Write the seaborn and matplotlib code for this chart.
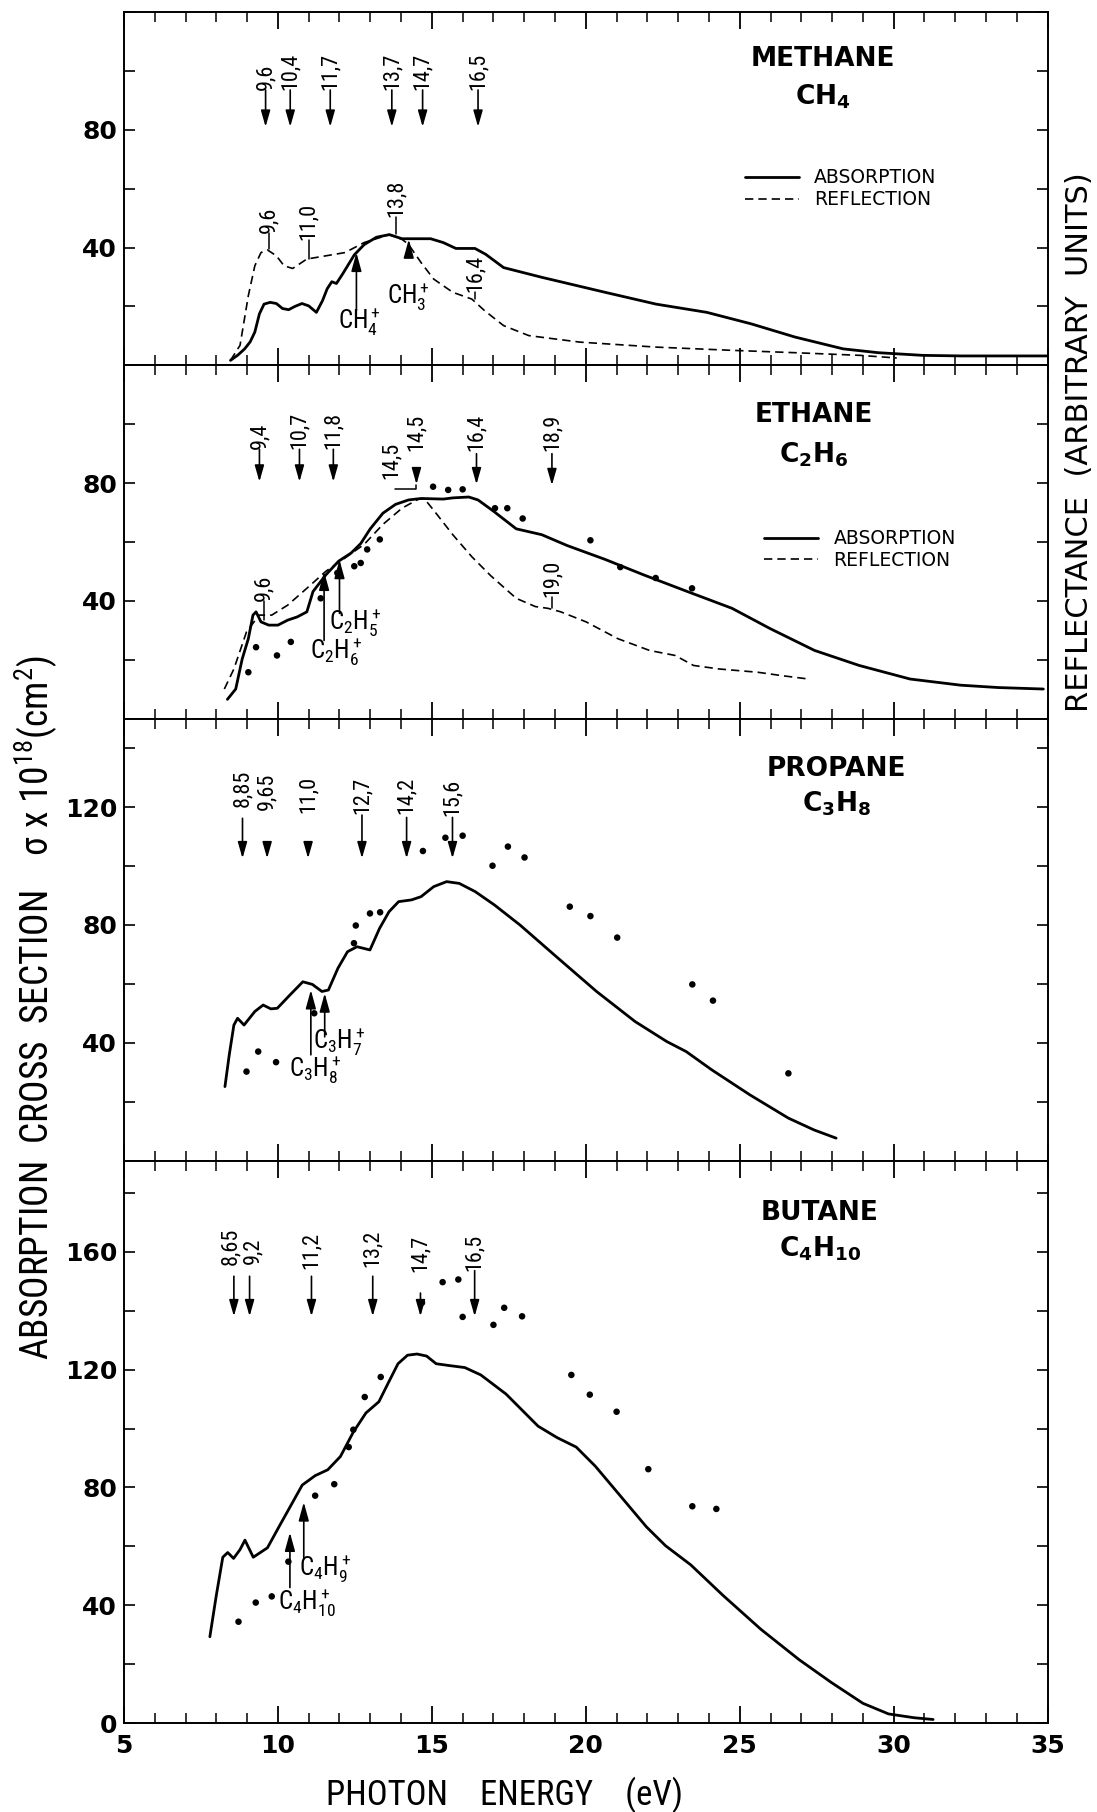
import numpy as np
import pandas as pd
import matplotlib.pyplot as plt
import seaborn as sns
from matplotlib.ticker import MultipleLocator

# ---------------------------------------------------------------
# style
# ---------------------------------------------------------------
sns.set_theme(style="ticks")
NARROW = ["Liberation Sans Narrow", "DejaVu Sans Condensed", "Noto Sans Condensed",
          "Roboto Condensed", "Noto Sans", "DejaVu Sans"]
plt.rcParams["font.family"] = NARROW
plt.rcParams["font.stretch"] = "condensed"
plt.rcParams["mathtext.default"] = "regular"
plt.rcParams.update({
    "axes.edgecolor": "black", "axes.linewidth": 1.4,
    "xtick.color": "black", "ytick.color": "black", "text.color": "black",
})

# ---------------------------------------------------------------
# data (photon energy in eV, sigma in 1e-18 cm2)
# ---------------------------------------------------------------
# methane
ch4_abs_x = [8.46, 8.7, 8.92, 9.1, 9.25, 9.4, 9.55, 9.75, 9.95, 10.15, 10.35, 10.55, 10.78, 11.0,
             11.25, 11.45, 11.6, 11.75, 11.9, 12.1, 12.48, 12.8, 13.2, 13.62, 14.03, 14.5, 14.96,
             15.37, 15.78, 16.4, 16.75, 17.33, 18.57, 20.63, 22.28, 23.93, 25.37, 26.8, 28.36,
             29.5, 30.94, 32.2, 35.0]
ch4_abs_y = [1.7, 3.5, 5.6, 8.0, 11.3, 17.5, 20.8, 21.4, 21.0, 19.3, 18.9, 20.0, 21.0, 20.2,
             18.0, 22.0, 26.0, 28.4, 27.8, 31.0, 37.5, 41.0, 43.5, 44.4, 43.0, 43.0, 43.0,
             41.7, 39.7, 39.7, 37.7, 33.2, 29.9, 24.8, 20.8, 18.0, 14.1, 9.6, 5.6,
             4.3, 3.4, 3.2, 3.2]
ch4_ref_x = [8.46, 8.77, 9.04, 9.25, 9.45, 9.66, 9.95, 10.2, 10.48, 10.94, 11.56, 12.18, 12.8,
             13.41, 13.62, 14.03, 14.24, 14.65, 15.06, 15.68, 16.3, 16.71, 17.33, 18.15, 19.8,
             22.28, 24.75, 26.8, 28.9, 30.1]
ch4_ref_y = [1.7, 6.8, 23.7, 33.8, 38.3, 39.2, 37.2, 33.8, 32.9, 36.1, 37.2, 38.3, 41.7,
             43.7, 44.4, 42.8, 41.1, 34.9, 29.3, 24.8, 22.5, 18.6, 13.5, 10.1, 7.9,
             6.2, 5.1, 4.3, 3.4, 2.5]

# ethane
c2h6_abs_x = [8.36, 8.63, 8.84, 9.04, 9.19, 9.29, 9.45, 9.7, 10.0, 10.32, 10.63, 10.94, 11.14,
              11.56, 11.97, 12.38, 12.69, 13.0, 13.41, 13.82, 14.24, 14.65, 15.37, 15.68, 16.2,
              16.5, 17.0, 17.74, 18.57, 19.4, 20.63, 21.87, 23.3, 24.75, 25.99, 27.43, 28.88,
              30.53, 32.18, 33.4, 34.86]
c2h6_abs_y = [6.6, 10.1, 20.3, 27.2, 35.2, 36.3, 32.9, 31.8, 31.8, 33.5, 34.6, 36.3, 43.2,
              48.9, 53.5, 56.3, 59.5, 64.5, 69.8, 72.8, 74.3, 74.8, 74.6, 75.0, 75.3,
              74.3, 70.5, 64.5, 62.5, 58.8, 54.1, 48.9, 43.2, 37.5, 30.6, 23.2, 18.1,
              13.5, 11.4, 10.6, 10.1]
c2h6_ref_x = [8.26, 8.57, 8.98, 9.39, 9.8, 10.32, 10.94, 11.56, 12.18, 12.8, 13.41, 14.03, 14.55,
              14.75, 15.06, 15.68, 16.3, 16.92, 17.74, 18.36, 18.77, 19.19, 20.01, 21.04, 22.07,
              22.9, 23.5, 24.34, 25.58, 26.4, 27.23]
c2h6_ref_y = [10.1, 16.9, 29.5, 35.2, 35.2, 38.6, 44.3, 50.1, 54.6, 59.2, 66.0, 71.5, 74.5,
              74.8, 70.8, 62.5, 55.0, 48.5, 40.9, 38.1, 37.5, 36.3, 32.9, 27.2, 23.2,
              21.5, 18.1, 16.9, 15.8, 14.6, 13.5]
c2h6_pts_x = [9.04, 9.29, 9.97, 10.42, 11.39, 11.93, 12.48, 12.69, 12.9, 13.31, 15.04, 15.53,
              16.0, 17.05, 17.45, 17.95, 20.15, 21.12, 22.27, 23.45]
c2h6_pts_y = [15.8, 24.3, 21.5, 26.1, 40.9, 49.5, 51.8, 52.9, 57.5, 60.9, 78.8, 77.7,
              77.9, 71.5, 71.5, 68.0, 60.6, 51.5, 47.8, 44.3]

# propane
c3h8_abs_x = [8.28, 8.42, 8.57, 8.69, 8.9, 9.25, 9.52, 9.77, 9.98, 10.39, 10.81, 11.12, 11.43,
              11.64, 11.95, 12.26, 12.57, 12.99, 13.3, 13.61, 13.92, 14.34, 14.65, 15.06, 15.48,
              15.89, 16.41, 17.03, 17.86, 19.1, 20.35, 21.6, 22.63, 23.26, 24.09, 25.33, 26.58,
              27.41, 28.13]
c3h8_abs_y = [25.1, 35.9, 46.0, 48.3, 46.0, 50.6, 52.8, 51.5, 51.7, 56.2, 60.7, 59.8, 57.4,
              57.9, 65.3, 70.9, 72.6, 71.5, 78.8, 84.5, 87.9, 88.5, 89.6, 93.0, 94.7,
              94.1, 91.3, 86.8, 80.0, 68.7, 57.4, 47.2, 40.4, 37.0, 30.8, 22.3, 14.4,
              10.4, 7.6]
c3h8_pts_x = [8.98, 9.36, 9.94, 11.18, 12.47, 12.53, 12.99, 13.32, 14.71, 15.44, 16.0, 16.97,
              17.47, 18.01, 19.48, 20.15, 21.02, 23.46, 24.13, 26.58]
c3h8_pts_y = [30.2, 37.0, 33.4, 50.0, 73.8, 79.8, 83.9, 84.3, 105.1, 109.6, 110.3, 100.1,
              106.6, 102.9, 86.2, 83.0, 75.7, 59.8, 54.3, 29.6]

# butane
c4h10_abs_x = [7.79, 8.0, 8.21, 8.37, 8.56, 8.77, 8.93, 9.2, 9.66, 10.07, 10.38, 10.79, 11.21,
               11.62, 12.03, 12.45, 12.86, 13.28, 13.59, 13.9, 14.21, 14.52, 14.83, 15.14, 15.55,
               16.07, 16.59, 17.41, 18.45, 19.07, 19.69, 20.31, 21.14, 21.97, 22.59, 23.41,
               24.45, 25.69, 26.93, 27.97, 29.0, 29.83, 30.66, 31.28]
c4h10_abs_y = [29.3, 43.4, 56.3, 57.9, 55.9, 58.9, 62.1, 56.3, 59.5, 67.3, 73.1, 80.8, 84.0,
               86.0, 90.5, 98.8, 105.3, 109.1, 115.6, 122.0, 124.9, 125.3, 124.6, 122.0, 121.4,
               120.7, 118.2, 111.7, 100.8, 96.9, 93.7, 87.2, 76.9, 66.6, 60.2, 53.7,
               43.4, 31.8, 21.5, 13.8, 6.7, 3.1, 1.8, 1.2]
c4h10_pts_x = [8.72, 9.28, 9.8, 10.34, 11.21, 11.83, 12.3, 12.45, 12.82, 13.34, 14.68, 15.35,
               15.86, 16.0, 17.0, 17.35, 17.93, 19.53, 20.13, 21.0, 22.03, 23.46, 24.24]
c4h10_pts_y = [34.4, 40.9, 43.0, 54.8, 77.2, 81.1, 93.7, 99.6, 110.7, 117.5, 142.7, 149.7,
               150.6, 137.9, 135.2, 141.0, 138.1, 118.2, 111.5, 105.7, 86.2, 73.6, 72.7]

# --- arrows at the top: energy position, label, label x, text bottom, arrow start, arrow tip
ch4_arr_x = [9.6, 10.4, 11.7, 13.7, 14.7, 16.5]
ch4_arr_lbl = ["9,6", "10,4", "11,7", "13,7", "14,7", "16,5"]
ch4_arr_tx = ch4_arr_x
ch4_arr_txt = [93.5] * 6
ch4_arr_top = [93.5] * 6
ch4_arr_tip = [81] * 6

c2h6_arr_x = [9.4, 10.7, 11.8, 14.5, 16.45, 18.9]
c2h6_arr_lbl = ["9,4", "10,7", "11,8", "14,5", "16,4", "18,9"]
c2h6_arr_tx = c2h6_arr_x
c2h6_arr_txt = [91.5, 91.5, 91.5, 91.0, 91.0, 91.0]
c2h6_arr_top = [91.5, 91.5, 91.5, 83.0, 90.0, 90.0]
c2h6_arr_tip = [80.5, 80.5, 80.5, 79.6, 79.6, 79.3]

c3h8_arr_x = [8.85, 9.65, 10.98, 12.73, 14.18, 15.67]
c3h8_arr_lbl = ["8,85", "9,65", "11,0", "12,7", "14,2", "15,6"]
c3h8_arr_tx = c3h8_arr_x
c3h8_arr_txt = [120, 119, 118, 117.5, 117.5, 117]
c3h8_arr_top = [116.2, 106.6, 106.6, 117.3, 116.5, 116.5]
c3h8_arr_tip = [102.6] * 6

c4h10_arr_x = [8.57, 9.08, 11.09, 13.08, 14.63, 16.39]
c4h10_arr_lbl = ["8,65", "9,2", "11,2", "13,2", "14,7", "16,5"]
c4h10_arr_tx = [8.47, 9.18, 11.09, 13.08, 14.63, 16.39]
c4h10_arr_txt = [155.5, 156, 154, 155, 153, 153.6]
c4h10_arr_top = [151.7, 151.7, 151.7, 151.7, 146, 153.6]
c4h10_arr_tip = [138.1] * 6

# --- peak labels with a plain leader: position, label, text bottom, leader end
ch4_pk_x = [9.7, 11.0, 13.85, 16.4]
ch4_pk_lbl = ["9,6", "11,0", "13,8", "16,4"]
ch4_pk_txt = [45, 42.5, 50.5, 25]
ch4_pk_end = [39.5, 36, 44.6, 22.5]

c2h6_pk_x = [9.55, 18.9, 13.69]
c2h6_pk_lbl = ["9,6", "19,0", "14,5"]
c2h6_pk_txt = [40, 41.5, 81.5]
c2h6_pk_end = [33.5, 37.5, 81.5]
c2h6_brk_x = [13.8, 14.5, 14.5]
c2h6_brk_y = [78.0, 78.0, 79.5]

# --- ion onsets: label, arrow position, arrow from, arrow to, text x, text y
ch4_ion = [("CH$_4^+$", 12.55, 18.6, 38.3, 12.65, 15.0),
           ("CH$_3^+$", 14.25, 37.2, 42.8, 14.25, 23.7)]
c2h6_ion = [("C$_2$H$_5^+$", 12.0, 35.8, 54.0, 12.5, 33.0),
            ("C$_2$H$_6^+$", 11.5, 26.6, 50.0, 11.9, 23.0)]
c3h8_ion = [("C$_3$H$_7^+$", 11.52, 42.0, 56.8, 12.0, 40.5),
            ("C$_3$H$_8^+$", 11.07, 35.9, 57.9, 11.2, 31.0)]
c4h10_ion = [("C$_4$H$_9^+$", 10.84, 55.7, 75.0, 11.55, 52.5),
             ("C$_4$H$_{10}^+$", 10.39, 46.0, 64.7, 10.95, 41.0)]

# --- panel names
names = [("METHANE", "CH$_4$"), ("ETHANE", "C$_2$H$_6$"),
         ("PROPANE", "C$_3$H$_8$"), ("BUTANE", "C$_4$H$_{10}$")]
name_x = [27.7, 27.4, 28.15, 27.6]
name_y = [104.0, 103.2, 132.9, 173.3]
formula_y = [91.3, 89.8, 121.0, 161.0]

y_top = [120, 120, 150, 191]
y_labeled = [[40, 80], [40, 80], [40, 80, 120], [0, 40, 80, 120, 160]]

LEG_FONT = dict(family="DejaVu Sans", size=13.5, stretch="normal")


def curve(ax, x, y, dashed=False, label=None):
    df = pd.DataFrame({"E": x, "sigma": y})
    if dashed:
        sns.lineplot(data=df, x="E", y="sigma", ax=ax, color="black", sort=False,
                     estimator=None, lw=1.2, linestyle=(0, (5, 3)), label=label)
    else:
        sns.lineplot(data=df, x="E", y="sigma", ax=ax, color="black", sort=False,
                     estimator=None, lw=2.0, label=label)
    return ax.lines[-1]


def dots(ax, x, y):
    sns.scatterplot(x=x, y=y, ax=ax, color="black", s=22, edgecolor="none",
                    legend=False, zorder=3)


def down_arrow(ax, x, y0, y1):
    ax.annotate("", xy=(x, y1), xytext=(x, y0),
                arrowprops=dict(arrowstyle="-|>,head_length=0.7,head_width=0.2",
                                color="black", lw=1.2, shrinkA=0, shrinkB=0,
                                mutation_scale=14))


def top_arrows(ax, xs, labels, tx, txt, top, tip):
    for x, lab, lx, ty, a0, a1 in zip(xs, labels, tx, txt, top, tip):
        ax.text(lx, ty, lab, rotation=90, ha="center", va="bottom", fontsize=16)
        down_arrow(ax, x, max(a0, a1 + 3.5), a1)


def peak_labels(ax, xs, labels, txt, end):
    for x, lab, ty, ye in zip(xs, labels, txt, end):
        ax.text(x, ty, lab, rotation=90, ha="center", va="bottom", fontsize=16)
        if abs(ty - ye) > 0.1:
            ax.plot([x, x], [ty, ye], color="black", lw=1.1)


def ion_arrows(ax, ions):
    for lab, x, y0, y1, tx, ty in ions:
        ax.annotate("", xy=(x, y1), xytext=(x, y0),
                    arrowprops=dict(arrowstyle="-|>,head_length=0.8,head_width=0.22",
                                    color="black", lw=1.2, shrinkA=0, shrinkB=0,
                                    mutation_scale=14))
        ax.text(tx, ty, lab, ha="center", va="center", fontsize=18)


fig, axes = plt.subplots(4, 1, figsize=(10.97, 18.12), dpi=100, sharex=True,
                         gridspec_kw=dict(height_ratios=y_top, hspace=0))
fig.subplots_adjust(left=0.113, right=0.955, top=0.9934, bottom=0.0491)

ax1, ax2, ax3, ax4 = axes

# methane
a = curve(ax1, ch4_abs_x, ch4_abs_y, label="ABSORPTION")
r = curve(ax1, ch4_ref_x, ch4_ref_y, dashed=True, label="REFLECTION")
top_arrows(ax1, ch4_arr_x, ch4_arr_lbl, ch4_arr_tx, ch4_arr_txt, ch4_arr_top, ch4_arr_tip)
peak_labels(ax1, ch4_pk_x, ch4_pk_lbl, ch4_pk_txt, ch4_pk_end)
ion_arrows(ax1, ch4_ion)
ax1.legend(handles=[a, r], labels=["ABSORPTION", "REFLECTION"], loc="center left",
           bbox_to_anchor=(0.672, 0.50), frameon=False, handlelength=2.9,
           handletextpad=0.8, labelspacing=0.15, borderaxespad=0, borderpad=0,
           prop=LEG_FONT)

# ethane
a = curve(ax2, c2h6_abs_x, c2h6_abs_y, label="ABSORPTION")
r = curve(ax2, c2h6_ref_x, c2h6_ref_y, dashed=True, label="REFLECTION")
dots(ax2, c2h6_pts_x, c2h6_pts_y)
top_arrows(ax2, c2h6_arr_x, c2h6_arr_lbl, c2h6_arr_tx, c2h6_arr_txt, c2h6_arr_top, c2h6_arr_tip)
peak_labels(ax2, c2h6_pk_x, c2h6_pk_lbl, c2h6_pk_txt, c2h6_pk_end)
ax2.plot(c2h6_brk_x, c2h6_brk_y, color="black", lw=1.1)
ion_arrows(ax2, c2h6_ion)
ax2.legend(handles=[a, r], labels=["ABSORPTION", "REFLECTION"], loc="center left",
           bbox_to_anchor=(0.693, 0.479), frameon=False, handlelength=2.9,
           handletextpad=0.8, labelspacing=0.15, borderaxespad=0, borderpad=0,
           prop=LEG_FONT)

# propane
curve(ax3, c3h8_abs_x, c3h8_abs_y)
dots(ax3, c3h8_pts_x, c3h8_pts_y)
top_arrows(ax3, c3h8_arr_x, c3h8_arr_lbl, c3h8_arr_tx, c3h8_arr_txt, c3h8_arr_top, c3h8_arr_tip)
ion_arrows(ax3, c3h8_ion)

# butane
curve(ax4, c4h10_abs_x, c4h10_abs_y)
dots(ax4, c4h10_pts_x, c4h10_pts_y)
top_arrows(ax4, c4h10_arr_x, c4h10_arr_lbl, c4h10_arr_tx, c4h10_arr_txt, c4h10_arr_top,
           c4h10_arr_tip)
ion_arrows(ax4, c4h10_ion)

# axes, ticks, panel names
for i, ax in enumerate(axes):
    ax.set(xlabel="", ylabel="")
    ax.set_xlim(5, 35)
    ax.set_ylim(0, y_top[i])
    yt = np.arange(0, y_top[i] + 1, 20)
    ax.set_yticks(yt, labels=[str(v) if v in y_labeled[i] else "" for v in yt],
                  fontsize=18, fontweight="bold", fontfamily="DejaVu Sans",
                  fontstretch="normal")
    ax.tick_params(axis="y", direction="in", left=True, right=True, length=8, width=1.2, pad=5)
    ax.xaxis.set_minor_locator(MultipleLocator(1))
    ax.tick_params(axis="x", which="both", direction="in", top=True, bottom=True)
    ax.tick_params(axis="x", which="major", length=12, width=1.3)
    ax.tick_params(axis="x", which="minor", length=7, width=1.1)
    ax.text(name_x[i], name_y[i], names[i][0], ha="center", va="center",
            fontsize=19, fontweight="bold", family="DejaVu Sans", fontstretch="normal")
    ax.text(name_x[i], formula_y[i], names[i][1], ha="center", va="center",
            fontsize=19, fontweight="bold", family="DejaVu Sans", fontstretch="normal")

ax4.set_xticks(np.arange(5, 36, 5), labels=[str(v) for v in range(5, 36, 5)],
               fontsize=18, fontweight="bold", fontfamily="DejaVu Sans", fontstretch="normal")
ax4.tick_params(axis="x", which="major", pad=8)

fig.text(0.46, 0.0094, "PHOTON    ENERGY    (eV)", ha="center", va="center", fontsize=25)
fig.text(0.033, 0.444, r"ABSORPTION  CROSS  SECTION    $\sigma$ x 10$^{18}$(cm$^2$)",
         rotation=90, ha="center", va="center", fontsize=27)
fig.text(0.9836, 0.756, "REFLECTANCE  (ARBITRARY  UNITS)", rotation=90,
         ha="center", va="center", fontsize=22, family="DejaVu Sans", fontstretch="normal")

fig.savefig("out.png", dpi=100)
